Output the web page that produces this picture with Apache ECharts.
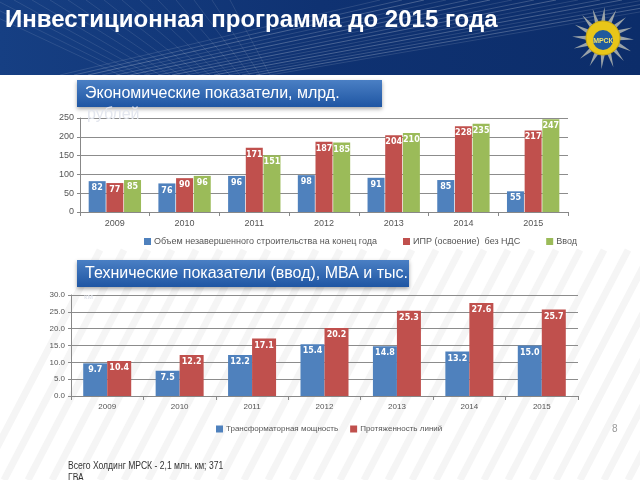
<!DOCTYPE html>
<html><head><meta charset="utf-8">
<script src="https://cdn.jsdelivr.net/npm/echarts@6/dist/echarts.min.js"></script>
<style>html,body{margin:0;padding:0;background:#fff}#c{width:640px;height:480px}</style>
</head><body><div id="c"></div>
<script>
const years = ['2009','2010','2011','2012','2013','2014','2015'];
const econNames = ['Объем незавершенного строительства на конец года','ИПР (освоение)  без НДС','Ввод'];
const unfinished = [82, 76, 96, 98, 91, 85, 55];
const iprNoVat = [77, 90, 171, 187, 204, 228, 217];
const commissioned = [85, 96, 151, 185, 210, 235, 247];
const techNames = ['Трансформаторная мощность','Протяженность линий'];
const transformer = [9.7, 7.5, 12.2, 15.4, 14.8, 13.2, 15.0];
const lines = [10.4, 12.2, 17.1, 20.2, 25.3, 27.6, 25.7];
const econTicks = [0, 50, 100, 150, 200, 250];
const techTicks = [0, 5, 10, 15, 20, 25, 30];

const BLUE = '#4F81BD', RED = '#C0504D', GREEN = '#9BBB59';
const FONT = 'Liberation Sans';
const chart = echarts.init(document.getElementById('c'), null, {renderer:'canvas'});

function lbl(dec){
  return {show:true, position:'insideTop', distance:3, color:'#fff', fontWeight:'bold', fontSize:8, fontFamily:'DejaVu Sans',
    formatter: p => dec ? p.value.toFixed(1) : String(p.value)};
}
const axisText1 = {color:'#555', fontSize:9, fontFamily:FONT};
const axisText2 = {color:'#555', fontSize:8, fontFamily:FONT};

// header streaks
const streaks = [];
for (let i = 0; i < 16; i++) {
  streaks.push({type:'line', shape:{x1:60 + i*14, y1:75, x2:380 + i*22, y2:0},
    style:{stroke:'rgba(255,255,255,' + (0.12 + (i%3)*0.06) + ')', lineWidth:1}, silent:true});
  streaks.push({type:'line', shape:{x1:120 + i*10, y1:75, x2:-40 + i*18, y2:0},
    style:{stroke:'rgba(255,255,255,0.10)', lineWidth:1}, silent:true});
}
// faint background stripes (watermark)
const stripes = [];
for (let i = 0; i < 30; i++) {
  stripes.push({type:'line', z:-20, shape:{x1:-20 + i*24, y1:480, x2:100 + i*24, y2:250},
    style:{stroke:'#f5f5f5', lineWidth:7}, silent:true});
}
// logo rays
const rays = [];
for (let i = 0; i < 16; i++) {
  const a = i * Math.PI * 2 / 16;
  rays.push({type:'polygon', shape:{points:[
    [603 + Math.cos(a-0.12)*16, 38 + Math.sin(a-0.12)*16],
    [603 + Math.cos(a+0.05)*31, 38 + Math.sin(a+0.05)*31],
    [603 + Math.cos(a+0.14)*16, 38 + Math.sin(a+0.14)*16]]},
    style:{fill:'#9aa3a8'}, silent:true});
}

chart.setOption({
  backgroundColor:'#fff',
  animation:false,
  graphic:[
    ...stripes,
    {type:'rect', shape:{x:0,y:0,width:640,height:75}, z:-10,
      style:{fill:new echarts.graphic.LinearGradient(0,0,1,0,[{offset:0,color:'#163f83'},{offset:0.5,color:'#0f3272'},{offset:1,color:'#0c2d6a'}])}},
    ...streaks,
    ...rays,
    {type:'circle', shape:{cx:603, cy:38, r:17}, style:{fill:'#e8c619', stroke:'#c9a80f', lineWidth:1}},
    {type:'circle', shape:{cx:603, cy:40, r:10}, style:{fill:'#1f5a9e'}},
    {type:'text', x:603, y:41, style:{text:'МРСК', fill:'#f2e36a', font:'bold 7px Liberation Sans', align:'center', verticalAlign:'middle'}},
    {type:'text', x:5, y:20, style:{text:'Инвестиционная программа до 2015 года', fill:'#fff',
      font:'bold 24px Liberation Sans', verticalAlign:'middle', shadowColor:'rgba(0,0,0,0.5)', shadowBlur:2, shadowOffsetX:1, shadowOffsetY:1}},
    // box 1
    {type:'rect', shape:{x:77,y:80,width:305,height:27},
      style:{fill:new echarts.graphic.LinearGradient(0,0,0,1,[{offset:0,color:'#4a7fc4'},{offset:1,color:'#1f56a3'}]),
        shadowColor:'rgba(0,0,0,0.35)', shadowBlur:4, shadowOffsetY:2}},
    {type:'text', x:85, y:94, style:{text:'Экономические показатели, млрд.', fill:'#fff', font:'16px Liberation Sans', verticalAlign:'middle'}},
    {type:'text', x:87, y:115, z:100, style:{text:'рублей', fill:'#e3e6ee', font:'16px Liberation Sans', verticalAlign:'middle'}},
    // box 2
    {type:'rect', shape:{x:77,y:260,width:332,height:27},
      style:{fill:new echarts.graphic.LinearGradient(0,0,0,1,[{offset:0,color:'#4a7fc4'},{offset:1,color:'#1f56a3'}]),
        shadowColor:'rgba(0,0,0,0.35)', shadowBlur:4, shadowOffsetY:2}},
    {type:'text', x:85, y:274, style:{text:'Технические показатели (ввод), МВА и тыс.', fill:'#fff', font:'16px Liberation Sans', verticalAlign:'middle'}},
    {type:'text', x:84, y:297, z:100, style:{text:'км', fill:'#dfe2ea', font:'8px Liberation Sans', verticalAlign:'middle'}},
    // footer
    {type:'text', x:612, y:429, style:{text:'8', fill:'#999', font:'10px Liberation Sans', verticalAlign:'middle'}},
    {type:'text', x:68, y:466, scaleX:0.78, style:{text:'Всего Холдинг МРСК - 2,1 млн. км; 371', fill:'#333', font:'11px Liberation Sans', verticalAlign:'middle'}},
    {type:'text', x:68, y:478, scaleX:0.78, style:{text:'ГВА', fill:'#333', font:'11px Liberation Sans', verticalAlign:'middle'}}
  ],
  legend:[
    {data:econNames, left:139, top:232, itemWidth:7, itemHeight:7, itemGap:26, icon:'rect',
      textStyle:{color:'#555', fontSize:9, fontFamily:FONT, padding:[0,0,0,-2]}},
    {data:techNames, left:211, top:420, itemWidth:7, itemHeight:7, itemGap:12, icon:'rect',
      textStyle:{color:'#555', fontSize:8, fontFamily:FONT, padding:[0,0,0,-2]}}
  ],
  grid:[
    {left:80, right:72, top:118, bottom:268},
    {left:71, right:62, top:295, bottom:84}
  ],
  xAxis:[
    {type:'category', gridIndex:0, data:years, axisLine:{lineStyle:{color:'#888'}},
      axisTick:{show:true, length:4, lineStyle:{color:'#888'}}, axisLabel:{...axisText1, margin:7}},
    {type:'category', gridIndex:1, data:years, axisLine:{lineStyle:{color:'#888'}},
      axisTick:{show:true, length:4, lineStyle:{color:'#888'}}, axisLabel:{...axisText2, margin:7}}
  ],
  yAxis:[
    {type:'value', gridIndex:0, min:econTicks[0], max:econTicks[econTicks.length-1], interval:50,
      axisLine:{show:true, lineStyle:{color:'#888'}}, axisTick:{show:true, length:3, lineStyle:{color:'#888'}},
      axisLabel:{...axisText1, margin:6}, splitLine:{lineStyle:{color:'#8c8c8c'}}},
    {type:'value', gridIndex:1, min:techTicks[0], max:techTicks[techTicks.length-1], interval:5,
      axisLine:{show:true, lineStyle:{color:'#888'}}, axisTick:{show:true, length:3, lineStyle:{color:'#888'}},
      axisLabel:{...axisText2, margin:6, formatter:v => v.toFixed(1)}, splitLine:{lineStyle:{color:'#8c8c8c'}}}
  ],
  series:[
    {name:econNames[0], type:'bar', xAxisIndex:0, yAxisIndex:0, data:unfinished, barWidth:17, barGap:'4%', itemStyle:{color:BLUE}, label:lbl(false)},
    {name:econNames[1], type:'bar', xAxisIndex:0, yAxisIndex:0, data:iprNoVat, barWidth:17, barGap:'4%', itemStyle:{color:RED}, label:lbl(false)},
    {name:econNames[2], type:'bar', xAxisIndex:0, yAxisIndex:0, data:commissioned, barWidth:17, barGap:'4%', itemStyle:{color:GREEN}, label:lbl(false)},
    {name:techNames[0], type:'bar', xAxisIndex:1, yAxisIndex:1, data:transformer, barWidth:24, barGap:'0%', itemStyle:{color:BLUE}, label:lbl(true)},
    {name:techNames[1], type:'bar', xAxisIndex:1, yAxisIndex:1, data:lines, barWidth:24, barGap:'0%', itemStyle:{color:RED}, label:lbl(true)}
  ]
});
</script></body></html>
